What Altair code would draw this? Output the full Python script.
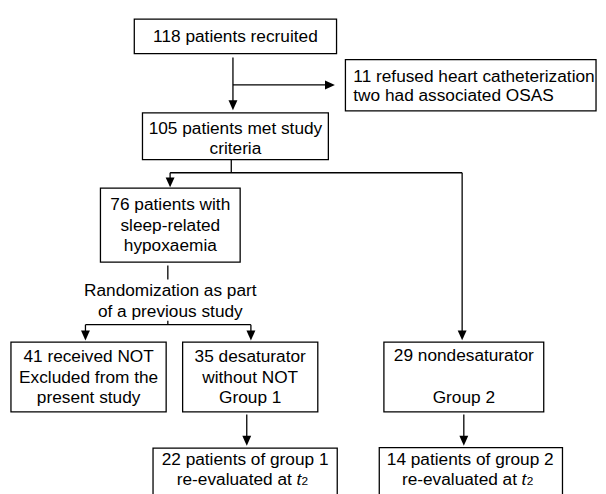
import altair as alt
import pandas as pd

# ---------------- content (labels) ----------------
label_recruited = ["118 patients recruited"]
label_refused = ["11 refused heart catheterization", "two had associated OSAS"]
label_met = ["105 patients met study", "criteria"]
label_hypox = ["76 patients with", "sleep-related", "hypoxaemia"]
label_random = ["Randomization as part", "of a previous study"]
label_notx = ["41 received NOT", "Excluded from the", "present study"]
label_g1 = ["35 desaturator", "without NOT", "Group 1"]
label_g2 = ["29 nondesaturator", "", "Group 2"]
label_re1 = ["22 patients of group 1", "re-evaluated at"]
label_re2 = ["14 patients of group 2", "re-evaluated at"]
time_symbol = "t"
time_index = "2"

labels = {
    "recruited": label_recruited, "refused": label_refused, "met": label_met,
    "hypox": label_hypox, "random": label_random, "notx": label_notx,
    "g1": label_g1, "g2": label_g2, "re1": label_re1, "re2": label_re2,
}

# ---------------- layout (page pixel coordinates) ----------------
# box: (x1, x2, y1, y2) or None ; text anchor x, first baseline, line height, align
layout = {
    "recruited": ((136, 341, 16, 51), 238.5, 39.3, 20, "center"),
    "refused":   ((350, 604, 57, 109), 358, 79.3, 20, "left"),
    "met":       ((144.3, 332.7, 111, 158.3), 238.5, 132.7, 20, "center"),
    "hypox":     ((101.7, 243.3, 187.3, 262.3), 172.5, 209.3, 21, "center"),
    "random":    (None, 172.5, 296.7, 21, "center"),
    "notx":      ((11, 168.3, 343.3, 414), 89.7, 363.3, 21, "center"),
    "g1":        ((185, 322, 343.3, 414), 253.5, 363.3, 21, "center"),
    "g2":        ((389, 551, 343.3, 414), 470, 362.5, 21.2, "center"),
    "re1":       ((155, 341.7, 450.7, 520), 248.3, 468.3, 20, "center"),
    "re2":       ((384.3, 570, 450.3, 520), 476.5, 468.3, 20, "center"),
}

segments = [
    (236, 55, 236, 104),
    (236, 82.7, 334, 82.7),
    (234.3, 158.3, 234.3, 171.7),
    (172.3, 171.7, 468.3, 171.7),
    (172.3, 171.7, 172.3, 182),
    (468.3, 171.7, 468.3, 337),
    (170, 265.7, 170, 280),
    (170, 321.7, 170, 325.7),
    (86.5, 325.7, 254.2, 325.7),
    (86.5, 325.7, 86.5, 337),
    (254.2, 325.7, 254.2, 337),
    (250, 416.7, 250, 444),
    (470, 416.7, 470, 444),
]

down_tips = [(236, 108.3), (172.3, 186.5), (468.3, 341.5), (86.5, 341.7),
             (254.2, 341.7), (250, 448.3), (470, 448.3)]
right_tips = [(339.3, 82.7)]

FONT = "Liberation Sans"
FS = 17.5

# ---------------- build tables ----------------
rect_rows, text_rows = [], []
for key, (box, tx, ty, lh, align) in layout.items():
    if box is not None:
        rect_rows.append(dict(x=box[0], x2=box[1], y=box[2], y2=box[3]))
    for i, line in enumerate(labels[key]):
        if key in ("re1", "re2") and i == 1:
            continue
        text_rows.append(dict(x=tx, y=ty + i * lh, text=line, align=align))

main_rows, t_rows, sub_rows = [], [], []
for key in ("re1", "re2"):
    _, cx, ty, lh, _ = layout[key]
    by = ty + lh
    main_rows.append(dict(x=cx + 47.4, y=by, text=labels[key][1]))
    t_rows.append(dict(x=cx + 52.0, y=by, text=time_symbol))
    sub_rows.append(dict(x=cx + 57.2, y=by, text=time_index))

seg_df = pd.DataFrame(segments, columns=["x", "y", "x2", "y2"])
down_df = pd.DataFrame([(x, y - 5) for x, y in down_tips], columns=["x", "y"])
right_df = pd.DataFrame([(x - 5, y) for x, y in right_tips], columns=["x", "y"])
rect_df = pd.DataFrame(rect_rows)
text_df = pd.DataFrame(text_rows)

xs = alt.Scale(domain=[8, 606], nice=False, zero=False)
ys = alt.Scale(domain=[8, 494], nice=False, zero=False, reverse=True)
X = lambda f="x": alt.X(f"{f}:Q", scale=xs, axis=None)
Y = lambda f="y": alt.Y(f"{f}:Q", scale=ys, axis=None)

rects = alt.Chart(rect_df).mark_rect(fill="white", stroke="black", strokeWidth=1.3).encode(
    x=X(), x2="x2:Q", y=Y(), y2="y2:Q")
rules = alt.Chart(seg_df).mark_rule(color="black", strokeWidth=1.3).encode(
    x=X(), x2="x2:Q", y=Y(), y2="y2:Q")
down_arrows = alt.Chart(down_df).mark_point(
    shape="M-0.9,-1L0.9,-1L0,1Z", size=100, filled=True, color="black", opacity=1
).encode(x=X(), y=Y())
right_arrows = alt.Chart(right_df).mark_point(
    shape="M-1,-0.9L1,0L-1,0.9Z", size=100, filled=True, color="black", opacity=1
).encode(x=X(), y=Y())

layers = [rects, rules, down_arrows, right_arrows]
for al in ("center", "left"):
    sub = text_df[text_df["align"] == al]
    layers.append(alt.Chart(sub).mark_text(
        font=FONT, fontSize=FS, color="black", align=al, baseline="alphabetic"
    ).encode(x=X(), y=Y(), text="text:N"))

layers.append(alt.Chart(pd.DataFrame(main_rows)).mark_text(
    font=FONT, fontSize=FS, color="black", align="right", baseline="alphabetic"
).encode(x=X(), y=Y(), text="text:N"))
layers.append(alt.Chart(pd.DataFrame(t_rows)).mark_text(
    font=FONT, fontSize=FS, fontStyle="italic", color="black", align="left", baseline="alphabetic"
).encode(x=X(), y=Y(), text="text:N"))
layers.append(alt.Chart(pd.DataFrame(sub_rows)).mark_text(
    font=FONT, fontSize=12, color="black", align="left", baseline="alphabetic"
).encode(x=X(), y=Y(), text="text:N"))

chart = alt.layer(*layers).properties(
    width=598, height=486, padding=0,
    autosize=alt.AutoSizeParams(type="none"),
    background="white",
).configure_view(strokeWidth=0)

chart.save("out.html", embed_options={"renderer": "svg", "actions": False})
